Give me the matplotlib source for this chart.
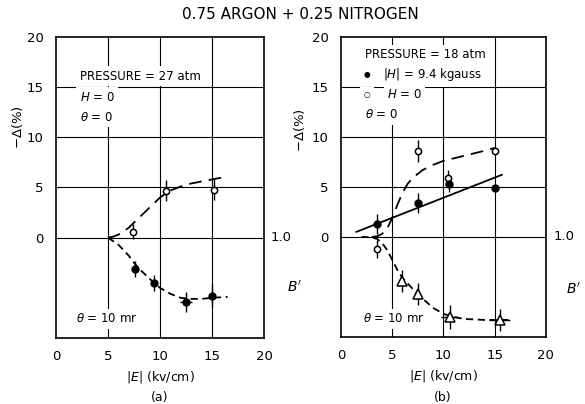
import numpy as np
import matplotlib
matplotlib.use('Agg')
import matplotlib.pyplot as plt

# panel (a): 27 atm
a_open_x = [7.4, 10.6, 15.2]
a_open_y = [0.6, 4.7, 4.8]
a_open_err = [0.75, 1.0, 1.0]
a_fill_x = [7.6, 9.4, 12.5, 15.0]
a_fill_y = [-3.1, -4.5, -6.4, -5.8]
a_fill_err = [0.8, 0.8, 1.0, 1.15]
a_fill_xerr = [0, 0, 0.6, 0]
a_up_x = [5, 5.5, 6, 6.5, 7, 7.5, 8, 9, 10, 11, 12, 13, 14, 15, 16.5]
a_up_y = [0, 0.1, 0.3, 0.6, 1.0, 1.5, 2.0, 3.0, 4.0, 4.7, 5.1, 5.4, 5.6, 5.8, 6.1]
a_lo_x = [5, 6, 7, 7.5, 8, 9, 10, 11, 12, 13, 14, 15, 16.5]
a_lo_y = [0, -0.7, -1.8, -2.5, -3.1, -4.1, -5.0, -5.6, -6.0, -6.1, -6.1, -6.0, -5.9]

# panel (b): 18 atm
b_open_x = [3.5, 7.5, 10.4, 15.0]
b_open_y = [-1.2, 8.6, 5.9, 8.6]
b_open_err = [0.9, 1.1, 0.8, 0.4]
b_fill_x = [3.5, 7.5, 10.5, 15.0]
b_fill_y = [1.3, 3.4, 5.3, 4.9]
b_fill_err = [1.0, 1.0, 0.8, 0.0]
b_tri_x = [6.0, 7.5, 10.6, 15.5]
b_tri_y = [-4.4, -5.7, -8.0, -8.3]
b_tri_err = [1.1, 1.1, 1.2, 1.1]
b_tri_xerr = [0, 0, 0.8, 1.0]
b_up_x = [3, 3.5, 4, 4.5, 5, 5.5, 6, 6.5, 7, 8, 9, 10, 12, 14, 15]
b_up_y = [0, 0.05, 0.3, 0.8, 1.9, 3.2, 4.4, 5.3, 5.9, 6.7, 7.2, 7.6, 8.1, 8.6, 8.9]
b_lo_x = [2, 3, 3.5, 4, 4.5, 5, 5.5, 6, 7, 7.5, 8, 9, 10, 11, 12, 14, 16.5]
b_lo_y = [0, -0.05, -0.2, -0.6, -1.3, -2.3, -3.3, -4.1, -5.2, -5.7, -6.2, -7.1, -7.7, -8.0, -8.2, -8.3, -8.3]
b_line_x = [1.5, 15.7]
b_line_y = [0.5, 6.2]

ticks = [0, 5, 10, 15, 20]

plt.rcParams['font.family'] = 'DejaVu Sans'
fig = plt.figure(figsize=(5.85, 4.04), dpi=100)
ax1 = fig.add_axes([0.0957, 0.1634, 0.3556, 0.745])
ax2 = fig.add_axes([0.583, 0.166, 0.350, 0.743])

for ax in (ax1, ax2):
    ax.set_xlim(0, 20)
    ax.set_ylim(-10, 20)
    ax.set_xticks(ticks)
    ax.set_yticks(ticks)
    ax.tick_params(length=0, pad=9, labelsize=9.5)
    for s in ax.spines.values():
        s.set_linewidth(1.2)
    for v in [0, 5, 10, 15]:
        ax.axhline(v, color='black', lw=0.8, zorder=0)
    for v in [5, 10, 15]:
        ax.axvline(v, color='black', lw=0.8, zorder=0)
    ax.set_xlabel(r'$|E|$ (kv/cm)', fontsize=9, labelpad=4)
    ax.set_ylabel(r'$-\Delta$(%)', fontsize=9.5)

ax1.yaxis.set_label_coords(-0.15, 0.70)
ax2.yaxis.set_label_coords(-0.165, 0.69)

box = dict(fc='white', ec='none', pad=2.5)
fs = 8.5

# panel (a)
ax1.plot(a_up_x, a_up_y, color='black', lw=1.3, dashes=(7, 4))
ax1.plot(a_lo_x, a_lo_y, color='black', lw=1.3, dashes=(4, 2.5))
ax1.errorbar(a_open_x, a_open_y, yerr=a_open_err, fmt='o', ms=4.5, mfc='white',
             mec='black', mew=1.1, ecolor='black', elinewidth=1.0, zorder=3)
ax1.errorbar(a_fill_x, a_fill_y, yerr=a_fill_err, xerr=a_fill_xerr, fmt='o', ms=5,
             color='black', elinewidth=1.0, zorder=3)
ax1.text(2.3, 16.1, 'PRESSURE = 27 atm', fontsize=fs, va='center', bbox=box)
ax1.text(2.3, 14.0, r'$H$ = 0', fontsize=fs, va='center', bbox=box)
ax1.text(2.3, 12.0, r'$\theta$ = 0', fontsize=fs, va='center', bbox=box)
ax1.text(1.9, -8.1, r'$\theta$ = 10 mr', fontsize=fs, va='center', bbox=box)
ax1.text(20.6, 0, '1.0', fontsize=9.5, va='center', clip_on=False)
ax1.text(22.2, -5, r"$B'$", fontsize=10, va='center', clip_on=False)

# panel (b)
ax2.plot(b_up_x, b_up_y, color='black', lw=1.3, dashes=(7, 4))
ax2.plot(b_lo_x, b_lo_y, color='black', lw=1.3, dashes=(4, 2.5))
ax2.plot(b_line_x, b_line_y, color='black', lw=1.3)
ax2.errorbar(b_open_x, b_open_y, yerr=b_open_err, fmt='o', ms=4.5, mfc='white',
             mec='black', mew=1.1, ecolor='black', elinewidth=1.0, zorder=3)
ax2.errorbar(b_fill_x, b_fill_y, yerr=b_fill_err, fmt='o', ms=5,
             color='black', elinewidth=1.0, zorder=3)
ax2.errorbar(b_tri_x, b_tri_y, yerr=b_tri_err, xerr=b_tri_xerr, fmt='^', ms=6.5,
             mfc='white', mec='black', mew=1.1, ecolor='black', elinewidth=1.0, zorder=3)
ax2.text(2.3, 18.2, 'PRESSURE = 18 atm', fontsize=fs, va='center', bbox=box)
ax2.text(2.2, 16.2, '\u25CF', fontsize=5.5, va='center', bbox=box)
ax2.text(4.1, 16.2, '|$H$| = 9.4 kgauss', fontsize=fs, va='center', bbox=box)
ax2.text(2.2, 14.2, '\u25CB', fontsize=5.5, va='center', bbox=box)
ax2.text(4.5, 14.2, '$H$ = 0', fontsize=fs, va='center', bbox=box)
ax2.text(2.3, 12.2, r'$\theta$ = 0', fontsize=fs, va='center', bbox=box)
ax2.text(2.1, -8.2, r'$\theta$ = 10 mr', fontsize=fs, va='center', bbox=box)
ax2.text(20.8, 0, '1.0', fontsize=9.5, va='center', clip_on=False)
ax2.text(22.0, -5.2, r"$B'$", fontsize=10, va='center', clip_on=False)

fig.text(0.513, 0.963, '0.75 ARGON + 0.25 NITROGEN', ha='center', va='center', fontsize=11)
fig.text(160 / 585, 1 - 397 / 404, '(a)', ha='center', va='center', fontsize=9)
fig.text(443 / 585, 1 - 397 / 404, '(b)', ha='center', va='center', fontsize=9)

fig.savefig('out.png', dpi=100)
